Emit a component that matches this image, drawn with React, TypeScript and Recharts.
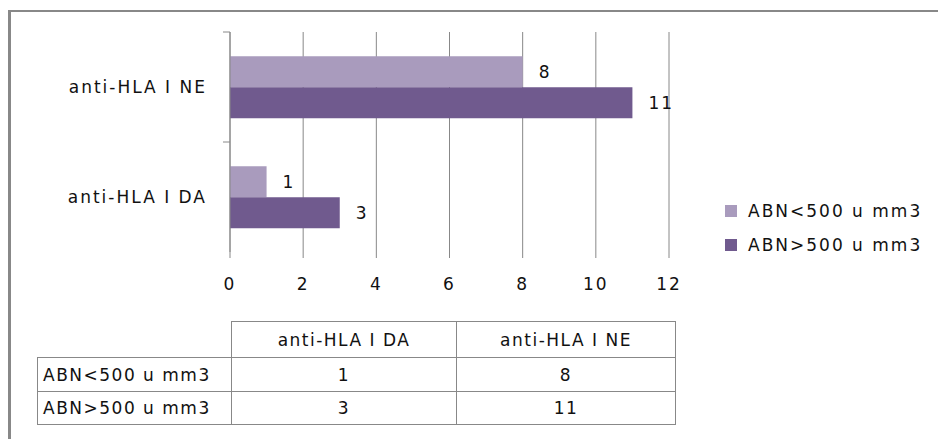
import React from "react";
import {
  BarChart,
  Bar,
  XAxis,
  YAxis,
  CartesianGrid,
  Legend,
  LabelList,
} from "recharts";

const categories = ["anti-HLA I DA", "anti-HLA I NE"];
const seriesNames = ["ABN<500 u mm3", "ABN>500 u mm3"];
const below500 = [1, 8];
const above500 = [3, 11];
const xTicks = [0, 2, 4, 6, 8, 10, 12];

const colors = ["#A99BBD", "#705A8E"];
const grey = "#888888";
const font = "'DejaVu Sans', Verdana, sans-serif";
const textStyle = { fontFamily: font, fontSize: 17, letterSpacing: 2, fill: "#111" };

const data = categories.map((name, i) => ({
  name,
  below: below500[i],
  above: above500[i],
}));

const CategoryTick = (props: any) => {
  const { x, y, payload } = props;
  const half = payload.offset ?? 55;
  return (
    <g>
      <line x1={x + 16} x2={x + 23} y1={y - half} y2={y - half} stroke={grey} />
      <text x={x} y={y} textAnchor="end" dominantBaseline="central" style={textStyle}>
        {payload.value}
      </text>
    </g>
  );
};

const LegendBox = () => (
  <div>
    {seriesNames.map((s, i) => (
      <div
        key={s}
        style={{ display: "flex", alignItems: "center", height: 34, fontFamily: font, fontSize: 17, letterSpacing: 2, color: "#111" }}
      >
        <span style={{ width: 12, height: 12, background: colors[i], marginRight: 11, display: "inline-block" }} />
        {s}
      </div>
    ))}
  </div>
);

const cell = (extra: React.CSSProperties = {}): React.CSSProperties => ({
  border: `1px solid ${grey}`,
  padding: 0,
  textAlign: "center",
  fontFamily: font,
  fontSize: 17,
  letterSpacing: 1.5,
  color: "#111",
  ...extra,
});

const App = () => {
  const rows = [below500, above500];
  return (
    <div style={{ position: "absolute", left: 0, top: 0, width: 938, height: 439, background: "#fff", overflow: "hidden" }}>
      <div
        style={{
          position: "absolute",
          left: 8,
          top: 10,
          width: 940,
          height: 440,
          borderLeft: `3px solid ${grey}`,
          borderTop: `2px solid ${grey}`,
        }}
      />
      <div style={{ position: "absolute", left: 0, top: 0 }}>
        <BarChart
          width={938}
          height={300}
          layout="vertical"
          data={data}
          margin={{ top: 32, right: 269, bottom: 8, left: 0 }}
          barCategoryGap="22%"
          barGap={0}
        >
          <CartesianGrid horizontal={false} stroke={grey} />
          <XAxis
            type="number"
            domain={[0, 12]}
            ticks={xTicks}
            axisLine={false}
            tickLine={{ stroke: grey }}
            tickSize={6}
            tickMargin={20}
            height={40}
            tick={textStyle}
            interval={0}
          />
          <YAxis
            type="category"
            dataKey="name"
            reversed
            width={230}
            axisLine={{ stroke: grey }}
            tickLine={false}
            tickSize={0}
            tickMargin={23}
            tick={<CategoryTick />}
          />
          <Legend
            layout="vertical"
            align="center"
            verticalAlign="middle"
            content={<LegendBox />}
            wrapperStyle={{ position: "absolute", left: 725, top: 194, width: 213 }}
          />
          <Bar dataKey="below" name={seriesNames[0]} fill={colors[0]} isAnimationActive={false}>
            <LabelList dataKey="below" position="right" offset={16} style={textStyle} />
          </Bar>
          <Bar dataKey="above" name={seriesNames[1]} fill={colors[1]} isAnimationActive={false}>
            <LabelList dataKey="above" position="right" offset={16} style={textStyle} />
          </Bar>
        </BarChart>
      </div>
      <table
        style={{
          position: "absolute",
          left: 37,
          top: 321,
          borderCollapse: "collapse",
          tableLayout: "fixed",
        }}
      >
        <colgroup>
          <col style={{ width: 194 }} />
          <col style={{ width: 225 }} />
          <col style={{ width: 219 }} />
        </colgroup>
        <tbody>
          <tr style={{ height: 36 }}>
            <td style={cell({ borderLeft: "none", borderTop: "none" })} />
            {categories.map((c) => (
              <td key={c} style={cell()}>
                {c}
              </td>
            ))}
          </tr>
          {rows.map((vals, r) => (
            <tr key={r} style={{ height: r === 0 ? 34 : 33 }}>
              <td style={cell({ textAlign: "left", paddingLeft: 5 })}>{seriesNames[r]}</td>
              {vals.map((v, i) => (
                <td key={i} style={cell()}>
                  {v}
                </td>
              ))}
            </tr>
          ))}
        </tbody>
      </table>
    </div>
  );
};

export default App;
